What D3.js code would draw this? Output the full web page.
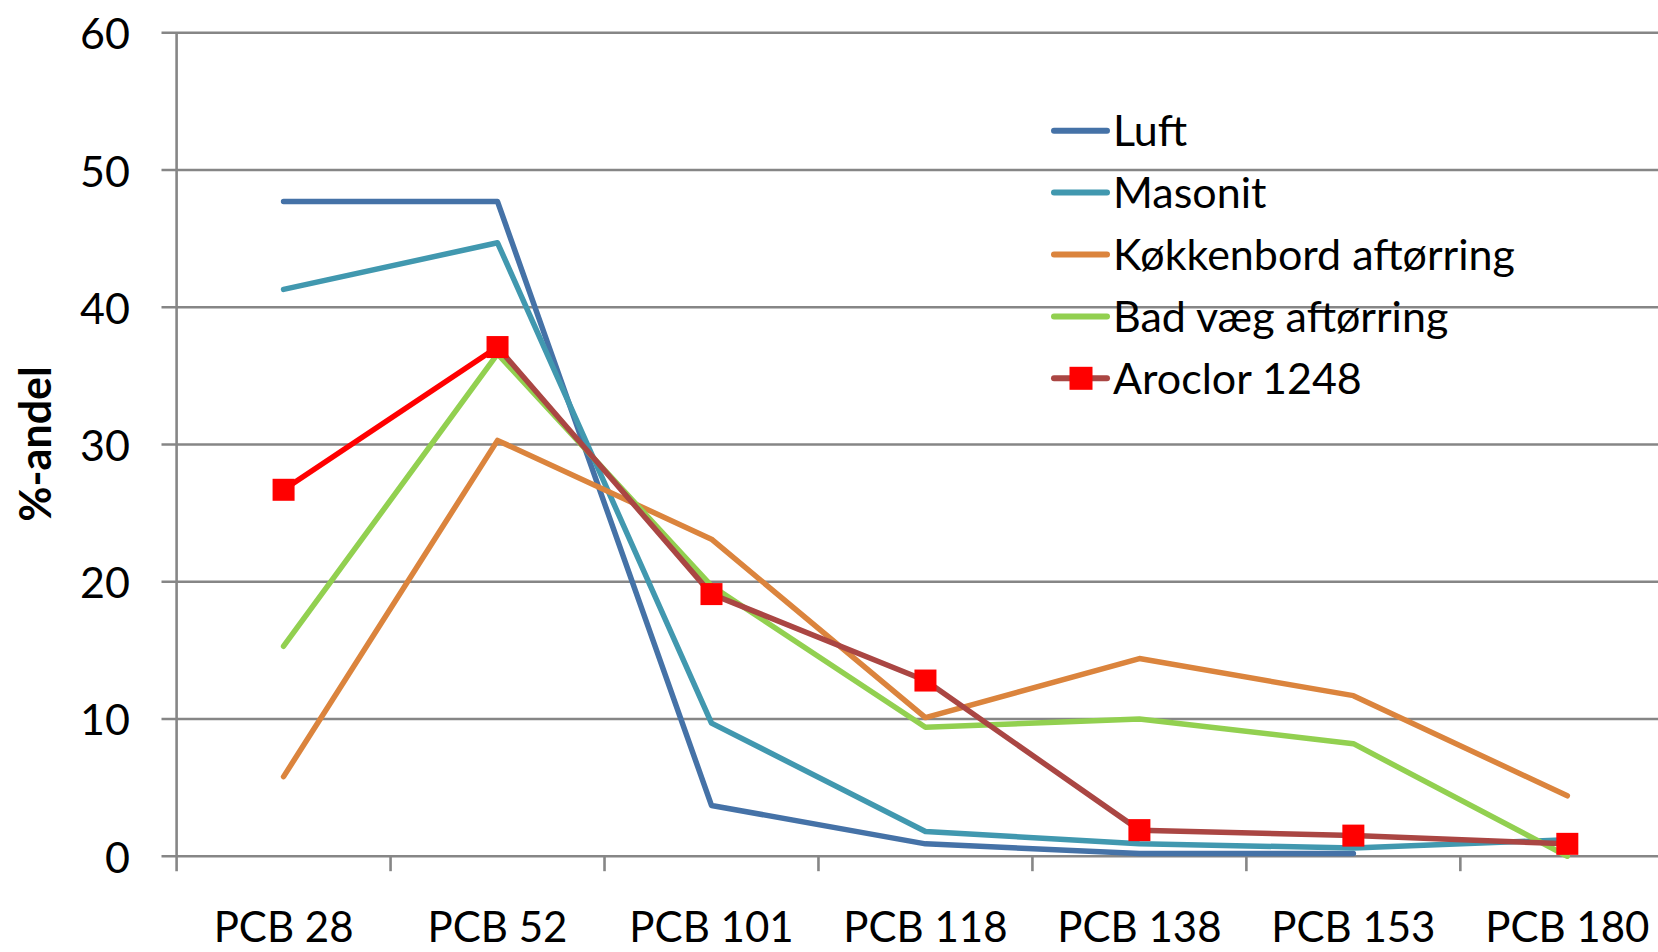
<!DOCTYPE html>
<html>
<head>
<meta charset="utf-8">
<script src="https://cdn.jsdelivr.net/npm/d3@7"></script>
<style>
  html, body { margin: 0; padding: 0; background: #fff; overflow: hidden; }
  svg { display: block; }
  text { font-family: Lato, "Open Sans", sans-serif; fill: #000; }
</style>
</head>
<body>
<svg id="chart" width="1658" height="952"></svg>
<script>
// ---- data ----
const categories = ["PCB 28", "PCB 52", "PCB 101", "PCB 118", "PCB 138", "PCB 153", "PCB 180"];
const seriesNames = ["Luft", "Masonit", "Køkkenbord aftørring", "Bad væg aftørring", "Aroclor 1248"];
const luft    = [47.7, 47.7, 3.7, 0.9, 0.2, 0.2, null];
const masonit = [41.3, 44.7, 9.7, 1.8, 0.9, 0.6, 1.2];
const kokken  = [5.8, 30.3, 23.1, 10.1, 14.4, 11.7, 4.4];
const badvaeg = [15.3, 36.6, 19.7, 9.4, 10.0, 8.2, 0.0];
const aroclor = [26.7, 37.1, 19.1, 12.8, 1.9, 1.5, 0.9];
const yTicks  = [0, 10, 20, 30, 40, 50, 60];
const yTitle  = "%-andel";

// ---- styles ----
const colors = ["#4572A7", "#4198AF", "#DB843D", "#92D050", "#AA4643"];
const firstSegColor = "#FF0000";   // Aroclor first segment
const markerColor = "#FF0000";

const svg = d3.select("#chart");
const W = 1658, H = 952;

const x = d3.scaleBand().domain(categories).range([176.6, 1674.3]).padding(0);
const y = d3.scaleLinear().domain([0, 60]).range([856.2, 32.8]);
const cx = c => x(c) + x.bandwidth() / 2;

const gridColor = "#868686";

// gridlines (extend left as ticks)
svg.append("g").selectAll("line").data(yTicks).join("line")
  .attr("x1", 161.5).attr("x2", W)
  .attr("y1", d => y(d)).attr("y2", d => y(d))
  .attr("stroke", gridColor).attr("stroke-width", 2.6);

// y axis line
svg.append("line")
  .attr("x1", x.range()[0]).attr("x2", x.range()[0])
  .attr("y1", y(60)).attr("y2", y(0) + 15)
  .attr("stroke", gridColor).attr("stroke-width", 2.6);

// x tick marks at band boundaries
svg.append("g").selectAll("line").data(categories.slice(1)).join("line")
  .attr("x1", d => x(d)).attr("x2", d => x(d))
  .attr("y1", y(0)).attr("y2", y(0) + 15)
  .attr("stroke", gridColor).attr("stroke-width", 2.6);

// y tick labels
svg.append("g").selectAll("text").data(yTicks).join("text")
  .attr("x", 130).attr("y", d => y(d))
  .attr("text-anchor", "end").attr("dominant-baseline", "central")
  .style("font-size", "43px")
  .text(d => d);

// x tick labels
svg.append("g").selectAll("text").data(categories).join("text")
  .attr("x", d => cx(d)).attr("y", 942)
  .attr("text-anchor", "middle")
  .style("font-size", "42px")
  .text(d => d);

// y title
svg.append("text")
  .attr("transform", "translate(51,444) rotate(-90)")
  .attr("text-anchor", "middle")
  .style("font-size", "43px").style("font-weight", "bold")
  .text(yTitle);

// ---- series ----
const allSeries = [luft, masonit, kokken, badvaeg, aroclor];
const line = d3.line()
  .defined(d => d.v !== null)
  .x(d => cx(d.c)).y(d => y(d.v));

const gLines = svg.append("g");
allSeries.forEach((vals, i) => {
  const pts = vals.map((v, j) => ({ c: categories[j], v }));
  if (i === 4) {
    gLines.append("path").datum(pts.slice(1))
      .attr("d", line).attr("fill", "none")
      .attr("stroke", colors[i]).attr("stroke-width", 5.5)
      .attr("stroke-linejoin", "round").attr("stroke-linecap", "round");
    gLines.append("path").datum(pts.slice(0, 2))
      .attr("d", line).attr("fill", "none")
      .attr("stroke", firstSegColor).attr("stroke-width", 5.5)
      .attr("stroke-linejoin", "round").attr("stroke-linecap", "round");
    const ms = 22;
    gLines.append("g").selectAll("rect").data(pts).join("rect")
      .attr("x", d => cx(d.c) - ms / 2).attr("y", d => y(d.v) - ms / 2)
      .attr("width", ms).attr("height", ms)
      .attr("fill", markerColor);
  } else {
    gLines.append("path").datum(pts)
      .attr("d", line).attr("fill", "none")
      .attr("stroke", colors[i]).attr("stroke-width", 5.5)
      .attr("stroke-linejoin", "round").attr("stroke-linecap", "round");
  }
});

// ---- legend ----
const legend = svg.append("g");
const ly0 = 130.7, lstep = 61.9;
seriesNames.forEach((name, i) => {
  const ly = ly0 + i * lstep;
  legend.append("line")
    .attr("x1", 1054).attr("x2", 1107).attr("y1", ly).attr("y2", ly)
    .attr("stroke", colors[i]).attr("stroke-width", 6).attr("stroke-linecap", "round");
  if (i === 4) {
    legend.append("rect").attr("x", 1081 - 11.5).attr("y", ly - 11.5)
      .attr("width", 23).attr("height", 23).attr("fill", markerColor);
  }
  legend.append("text")
    .attr("x", 1113).attr("y", ly + 15.5)
    .style("font-size", "43px")
    .text(name);
});
</script>
</body>
</html>
